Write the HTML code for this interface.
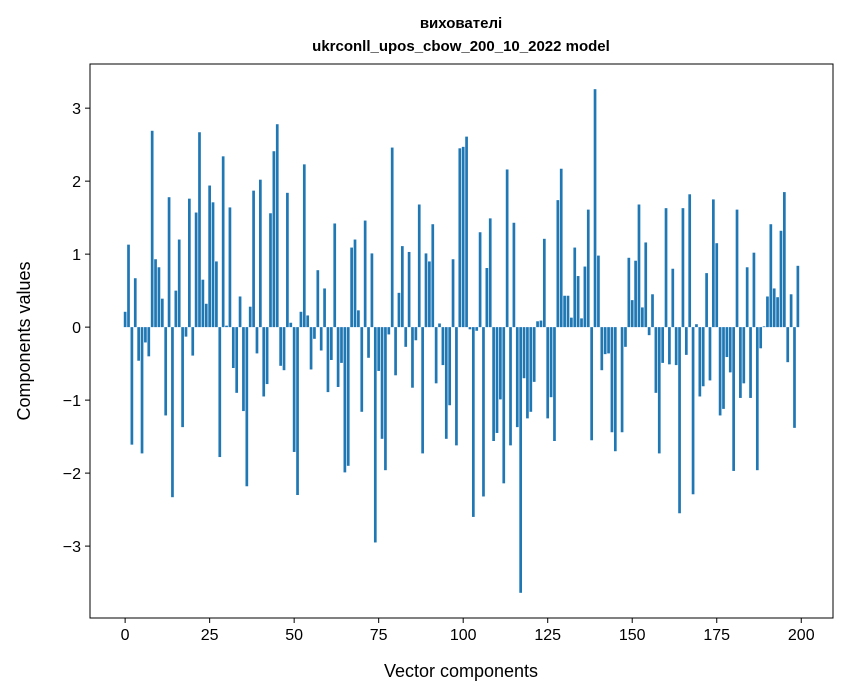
<!DOCTYPE html>
<html><head><meta charset="utf-8"><style>
html,body{margin:0;padding:0;background:#fff;}
svg{display:block;font-family:"Liberation Sans","DejaVu Sans",sans-serif;}
</style></head><body>
<svg id="chart" width="847" height="696" viewBox="0 0 847 696" xmlns="http://www.w3.org/2000/svg">
<rect width="847" height="696" fill="#fff"/>
<text x="461" y="28" text-anchor="middle" font-size="15" font-weight="bold">вихователі</text>
<text x="461" y="51" text-anchor="middle" font-size="15" font-weight="bold">ukrconll_upos_cbow_200_10_2022 model</text>
<g id="bars"></g>
<g id="axes"></g>
<rect x="90" y="64" width="743" height="554" fill="none" stroke="#000" stroke-width="1"/>
<text x="461" y="677" text-anchor="middle" font-size="18">Vector components</text>
<text transform="translate(30,341) rotate(-90)" text-anchor="middle" font-size="18">Components values</text>
</svg>
<script>
const values = [0.21,1.13,-1.61,0.67,-0.46,-1.73,-0.21,-0.40,2.69,0.93,0.82,0.39,-1.21,1.78,-2.33,0.50,1.20,-1.37,-0.13,1.76,-0.39,1.57,2.67,0.65,0.32,
1.94,1.71,0.90,-1.78,2.34,0.02,1.64,-0.56,-0.90,0.42,-1.15,-2.18,0.28,1.87,-0.36,2.02,-0.95,-0.78,1.56,2.41,2.78,-0.53,-0.59,1.84,0.06,
-1.71,-2.30,0.21,2.23,0.16,-0.58,-0.16,0.78,-0.32,0.53,-0.89,-0.45,1.42,-0.82,-0.49,-1.99,-1.90,1.09,1.20,0.23,-1.16,1.46,-0.42,1.01,-2.95,
-0.60,-1.53,-1.96,-0.10,2.46,-0.66,0.47,1.11,-0.27,1.03,-0.83,-0.18,1.68,-1.73,1.01,0.90,1.41,-0.77,0.05,-0.52,-1.53,-1.07,0.93,-1.62,2.45,
2.47,2.61,-0.03,-2.60,-0.05,1.30,-2.32,0.81,1.49,-1.56,-1.45,-0.99,-2.14,2.16,-1.62,1.43,-1.37,-3.64,-0.70,-1.25,-1.16,-0.75,0.08,0.09,1.21,
-1.25,-0.96,-1.56,1.74,2.17,0.43,0.43,0.13,1.09,0.70,0.12,0.83,1.61,-1.55,3.26,0.98,-0.59,-0.37,-0.36,-1.44,-1.70,0.00,-1.44,-0.27,0.95,
0.37,0.91,1.68,0.27,1.16,-0.11,0.45,-0.90,-1.73,-0.49,1.63,-0.51,0.80,-0.52,-2.55,1.63,-0.38,1.82,-2.29,0.04,-0.95,-0.81,0.74,-0.73,1.75,
1.15,-1.21,-1.12,-0.41,-0.62,-1.97,1.61,-0.97,-0.77,0.82,-0.97,1.02,-1.96,-0.29,0.01,0.42,1.41,0.53,0.41,1.32,1.85,-0.48,0.45,-1.38,0.84];
const xTicks = [0,25,50,75,100,125,150,175,200];
const yTicks = [-3,-2,-1,0,1,2,3];
const yTickLabels = ["\u22123","\u22122","\u22121","0","1","2","3"];

const NS="http://www.w3.org/2000/svg";
const L=90,R=833,T=64,B=618;
const xMin=-10.39,xMax=209.39;
const vals=values;
const dMax=Math.max(...vals),dMin=Math.min(...vals);
const pad=(dMax-dMin)*0.05;
const yMax=dMax+pad,yMin=Math.min(0,dMin)-pad;
function xs(v){return L+(v-xMin)/(xMax-xMin)*(R-L);}
function ys(v){return T+(yMax-v)/(yMax-yMin)*(B-T);}
const bars=document.getElementById('bars');
vals.forEach((v,i)=>{
  const r=document.createElementNS(NS,'rect');
  const x0=xs(i-0.4),x1=xs(i+0.4);
  const y0=ys(Math.max(v,0)),y1=ys(Math.min(v,0));
  r.setAttribute('x',x0);r.setAttribute('width',x1-x0);
  r.setAttribute('y',y0);r.setAttribute('height',Math.max(y1-y0,0.01));
  r.setAttribute('fill','#1f77b4');
  
  
  bars.appendChild(r);
});
const axes=document.getElementById('axes');
xTicks.forEach(t=>{
  const x=xs(t);
  const l=document.createElementNS(NS,'line');
  l.setAttribute('x1',x);l.setAttribute('x2',x);l.setAttribute('y1',B);l.setAttribute('y2',B+5);
  l.setAttribute('stroke','#000');
  
  
  axes.appendChild(l);
  const tx=document.createElementNS(NS,'text');
  tx.setAttribute('x',x);tx.setAttribute('y',B+22);tx.setAttribute('text-anchor','middle');tx.setAttribute('font-size','16');
  tx.textContent=String(t);
  
  
  axes.appendChild(tx);
});
yTicks.forEach((t,i)=>{
  const y=ys(t);
  const l=document.createElementNS(NS,'line');
  l.setAttribute('x1',L-5);l.setAttribute('x2',L);l.setAttribute('y1',y);l.setAttribute('y2',y);
  l.setAttribute('stroke','#000');
  
  
  axes.appendChild(l);
  const tx=document.createElementNS(NS,'text');
  tx.setAttribute('x',L-9);tx.setAttribute('y',y+6);tx.setAttribute('text-anchor','end');tx.setAttribute('font-size','16');
  tx.textContent=yTickLabels[i];
  
  
  axes.appendChild(tx);
});
</script>
</body></html>
